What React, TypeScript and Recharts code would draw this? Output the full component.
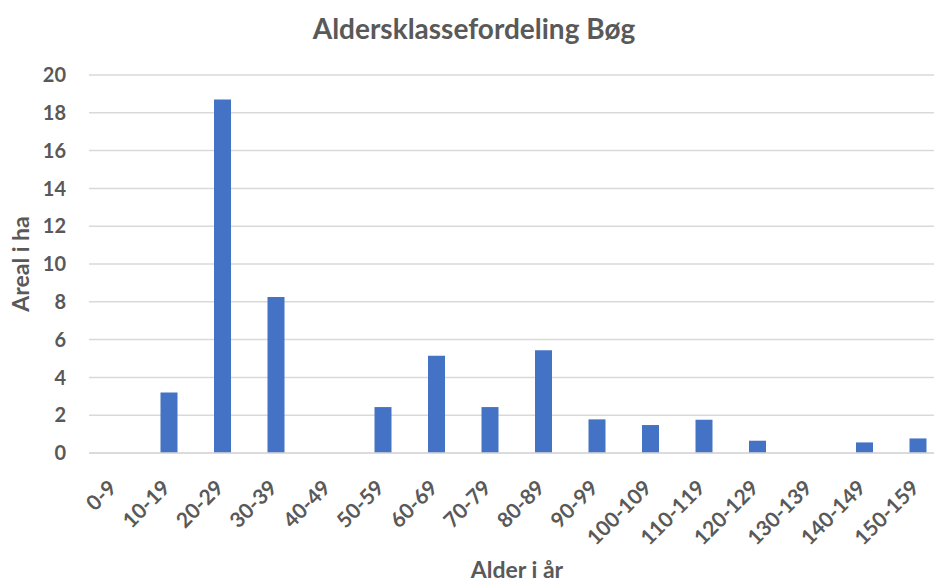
import React from "react";
import { Bar, BarChart, CartesianGrid, XAxis, YAxis } from "recharts";

const categories = [
  "0-9", "10-19", "20-29", "30-39", "40-49", "50-59", "60-69", "70-79",
  "80-89", "90-99", "100-109", "110-119", "120-129", "130-139", "140-149", "150-159",
];
const areal = [0, 3.2, 18.7, 8.26, 0, 2.43, 5.14, 2.43, 5.44, 1.78, 1.48, 1.76, 0.65, 0, 0.56, 0.77];
const yTicks = [0, 2, 4, 6, 8, 10, 12, 14, 16, 18, 20];

const data = categories.map((c, i) => ({ name: c, value: areal[i] }));

const FONT = "Lato, 'Open Sans', sans-serif";
const GREY = "#595959";

function XTick(props: any) {
  const { x, y, payload } = props;
  return (
    <g transform={`translate(${x - 9},${y + 17})`}>
      <text
        transform="rotate(-45)"
        textAnchor="end"
        dy="0.75em"
        fill={GREY}
        fontFamily={FONT}
        fontWeight={700}
        fontSize={21}
      >
        {payload.value}
      </text>
    </g>
  );
}

function YTick(props: any) {
  const { x, y, payload } = props;
  return (
    <text x={x - 15} y={y} dy="0.36em" textAnchor="end" fill={GREY} fontFamily={FONT} fontWeight={700} fontSize={20}>
      {payload.value}
    </text>
  );
}

function YTitle() {
  return (
    <text
      x={21}
      y={264}
      transform="rotate(-90, 21, 264)"
      textAnchor="middle"
      dy="0.36em"
      fill={GREY}
      fontFamily={FONT}
      fontWeight={700}
      fontSize={23}
    >
      Areal i ha
    </text>
  );
}

function XTitle() {
  return (
    <text x={517} y={570} textAnchor="middle" dy="0.36em" fill={GREY} fontFamily={FONT} fontWeight={700} fontSize={23}>
      Alder i år
    </text>
  );
}

export default function App() {
  return (
    <div style={{ position: "fixed", left: 0, top: 0, width: 934, height: 583, overflow: "hidden", background: "#fff" }}>
      <div
        style={{
          position: "absolute",
          left: 0,
          width: 948,
          top: 11,
          textAlign: "center",
          fontFamily: FONT,
          fontWeight: 700,
          fontSize: 28,
          color: GREY,
        }}
      >
        Aldersklassefordeling Bøg
      </div>
      <BarChart width={948} height={583} data={data} margin={{ top: 75, right: 3, left: 0, bottom: 0 }}>
        <CartesianGrid stroke="#D9D9D9" strokeWidth={1.5} vertical={false} />
        <XAxis
          dataKey="name"
          interval={0}
          height={130}
          tickLine={false}
          axisLine={{ stroke: "#D9D9D9", strokeWidth: 1.5 }}
          tick={<XTick />}
          label={{ content: () => <XTitle /> }}
        />
        <YAxis
          width={89}
          domain={[0, 20]}
          ticks={yTicks}
          interval={0}
          tickLine={false}
          axisLine={false}
          tick={<YTick />}
          label={{ content: () => <YTitle /> }}
        />
        <Bar dataKey="value" fill="#4472C4" barSize={17} isAnimationActive={false} />
      </BarChart>
    </div>
  );
}
